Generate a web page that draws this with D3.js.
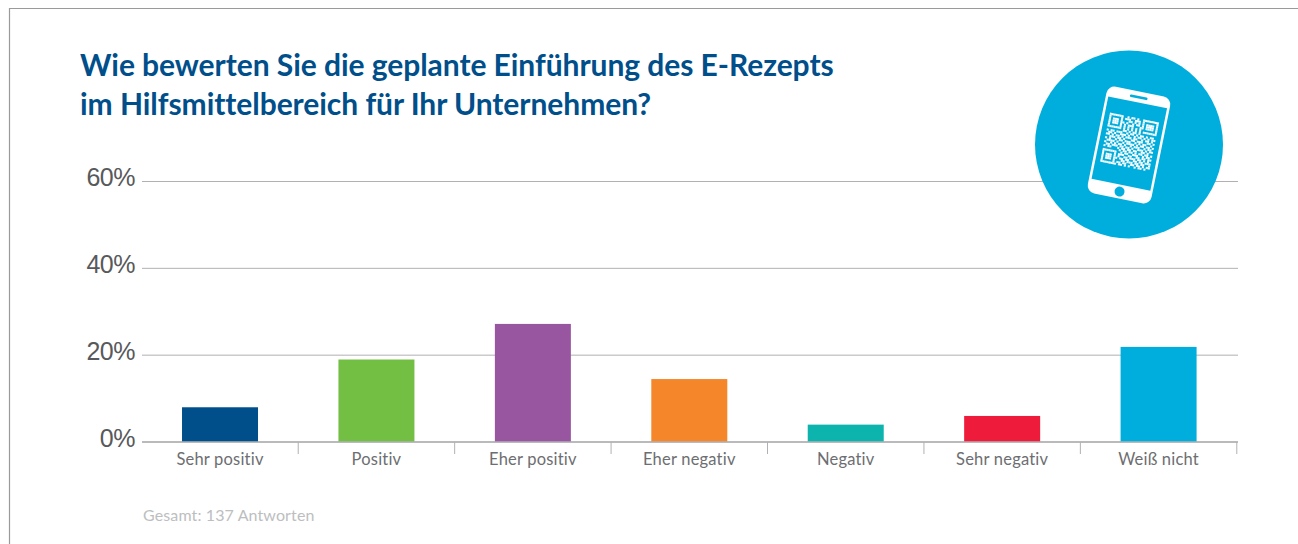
<!DOCTYPE html>
<html><head><meta charset="utf-8">
<script src="https://cdn.jsdelivr.net/npm/d3@7/dist/d3.min.js"></script>
<style>html,body{margin:0;padding:0;background:#fff}svg{display:block}</style></head>
<body><svg id="c" width="1298" height="544"></svg>
<script>
const categories = ["Sehr positiv","Positiv","Eher positiv","Eher negativ","Negativ","Sehr negativ","Weiß nicht"];
const values = [8,19,27.2,14.5,4,6,21.9];
const colors = ["#004f8b","#72bf44","#97569f","#f6862a","#0db4ae","#ee1b3b","#00aede"];
const yTicks = [0,20,40,60];
const titleLines = ["Wie bewerten Sie die geplante Einführung des E-Rezepts","im Hilfsmittelbereich für Ihr Unternehmen?"];
const footnote = "Gesamt: 137 Antworten";
const qrRows = [
"1111111001011010011111111","1000001011100111010000001","1011101000110101010111101","1011101101001011010111101","1011101010111000110111101","1000001010101010100000001","1111111010101010101111111",
"0000000011010110100000000","1011011100101101011010110","0110100111010010110101011","1101011010111011001011010","0011101101000110111001101","1010010110111001010110010",
"0111101001011110101101101","1001010110100101110010110","0110111011011010011101011","1011000101101101100110100","0000000010110110101101101",
"1111111001011001110010110","1000001011100110011011011","1011101010011011101101010","1011101101101100110110111","1011101000110111011011001","1000001011011001101101011","1111111101101010010110100"];

const svg = d3.select("#c");
const textFont = "Lato, sans-serif";

svg.append("path").attr("d","M9.5,544V8.5H1298").attr("fill","none").attr("stroke","#9a9a9a").attr("stroke-width",1.2);

const x = d3.scaleBand().domain(categories).range([141.8,1236.8]);
const y = d3.scaleLinear().domain([0,60]).range([442,181.5]);
const bw = 76;

svg.append("g").selectAll("line").data(yTicks).join("line")
  .attr("x1",142).attr("x2",1238).attr("y1",d=>y(d)).attr("y2",d=>y(d))
  .attr("stroke","#b1b1b3").attr("stroke-width",1);

svg.append("g").selectAll("text").data(yTicks).join("text")
  .attr("x",135).attr("y",d=>y(d)+4.5).attr("text-anchor","end")
  .attr("font-family","'Liberation Sans', Arial, sans-serif").attr("font-size",25).attr("letter-spacing",-0.5)
  .attr("fill","#58595b").text(d=>d+"%");

svg.append("g").selectAll("rect").data(values).join("rect")
  .attr("x",(d,i)=>x(categories[i])+x.bandwidth()/2-bw/2).attr("width",bw)
  .attr("y",d=>y(d)).attr("height",d=>y(0)-y(d))
  .attr("fill",(d,i)=>colors[i]);

const sep = categories.map(c=>x(c)+x.bandwidth());
svg.append("g").selectAll("line").data(sep).join("line")
  .attr("x1",d=>d).attr("x2",d=>d).attr("y1",y(0)).attr("y2",454)
  .attr("stroke","#b1b1b3").attr("stroke-width",1);
svg.append("line").attr("x1",142).attr("x2",1238).attr("y1",y(0)).attr("y2",y(0)).attr("stroke","#b1b1b3").attr("stroke-width",1.4);

svg.append("g").selectAll("text").data(categories).join("text")
  .attr("x",d=>x(d)+x.bandwidth()/2).attr("y",465).attr("text-anchor","middle")
  .attr("font-family",textFont).attr("font-size",16.5).attr("letter-spacing",0.2)
  .attr("fill","#6d6e71").text(d=>d);

svg.append("g").selectAll("text").data(titleLines).join("text")
  .attr("x",80).attr("y",(d,i)=>76+i*39)
  .attr("font-family",textFont).attr("font-weight",700).attr("font-size",30).attr("letter-spacing",-0.05)
  .attr("fill","#004f8b").text(d=>d);

svg.append("text").attr("x",143).attr("y",521).attr("font-family",textFont).attr("font-size",16)
  .attr("letter-spacing",0.12).attr("fill","#bcbec0").text(footnote);

const icon = svg.append("g").attr("transform","translate(1129,144.5)");
icon.append("circle").attr("r",94).attr("fill","#00aede");
const phone = icon.append("g").attr("transform","translate(0,0.5) rotate(11.5)");
phone.append("rect").attr("x",-32.5).attr("y",-54.5).attr("width",65).attr("height",109).attr("rx",8).attr("fill","#fff");
phone.append("rect").attr("x",-30).attr("y",-43.5).attr("width",60).attr("height",84).attr("fill","#00aede");
phone.append("rect").attr("x",-9).attr("y",-50).attr("width",18).attr("height",2.6).attr("rx",1.3).attr("fill","#00aede");
phone.append("circle").attr("cx",0).attr("cy",47.5).attr("r",5).attr("fill","#00aede");
const qs = 50/qrRows.length;
const cells = qrRows.flatMap((r,j)=>[...r].map((v,i)=>({i,j,v}))).filter(d=>d.v==="1");
phone.append("g").attr("transform","translate(-25,-28)").selectAll("rect").data(cells).join("rect")
  .attr("x",d=>d.i*qs).attr("y",d=>d.j*qs).attr("width",qs+.05).attr("height",qs+.05).attr("fill","#fff");
</script></body></html>
